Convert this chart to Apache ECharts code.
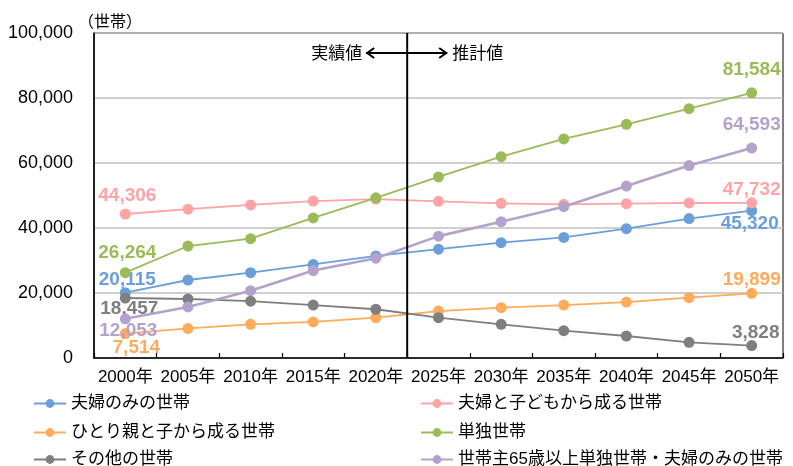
<!DOCTYPE html>
<html><head><meta charset="utf-8">
<script src="https://cdn.jsdelivr.net/npm/echarts@6/dist/echarts.min.js"></script>
<style>html,body{margin:0;padding:0;background:#fff}#c{width:793px;height:466px}</style>
</head><body><div id="c"></div>
<script>
const categories = ['2000年','2005年','2010年','2015年','2020年','2025年','2030年','2035年','2040年','2045年','2050年'];
const coupleOnly      = [20115, 24000, 26250, 28800, 31400, 33500, 35500, 37100, 39800, 42900, 45320];
const coupleChildren  = [44306, 45800, 47100, 48300, 48900, 48200, 47600, 47300, 47500, 47700, 47732];
const singleParent    = [7514, 9100, 10350, 11100, 12400, 14450, 15500, 16300, 17200, 18550, 19899];
const singlePerson    = [26264, 34450, 36700, 43100, 49300, 55700, 61950, 67400, 71900, 76700, 81584];
const otherHouseholds = [18457, 18150, 17500, 16300, 15000, 12400, 10350, 8400, 6770, 4820, 3828];
const elderly65       = [12053, 15700, 20700, 26900, 30700, 37500, 41950, 46550, 52900, 59200, 64593];
const seriesNames = ['夫婦のみの世帯','夫婦と子どもから成る世帯','ひとり親と子から成る世帯','単独世帯','その他の世帯','世帯主65歳以上単独世帯・夫婦のみの世帯'];
const yTicks = [0, 20000, 40000, 60000, 80000, 100000];

const FONT = "'Liberation Sans', Arial, 'Noto Sans CJK JP', sans-serif";
const seriesData = [coupleOnly, coupleChildren, singleParent, singlePerson, otherHouseholds, elderly65];
const colors = ['#6a9fdc', '#ffa3a6', '#ffab5c', '#9bbb59', '#7f7f7f', '#b3a2cc'];
const widths = [1.8, 1.8, 1.8, 1.8, 1.8, 2.6];
const offsets = [
  [[2,-13],[-2,13]],
  [[2,-18],[0,-13]],
  [[11,14],[0,-14]],
  [[2,-20],[0,-23]],
  [[4,11],[4,-13]],
  [[3,12],[0,-23]]
];
const fmt = v => String(v).replace(/\B(?=(\d{3})+(?!\d))/g, ',');

const series = seriesData.map((arr, i) => ({
  name: seriesNames[i],
  type: 'line',
  symbol: 'circle',
  symbolSize: 11,
  color: colors[i],
  lineStyle: {width: widths[i], color: colors[i]},
  itemStyle: {color: colors[i]},
  z: 2 + i,
  data: arr.map((v, j) => {
    if (j === 0 || j === arr.length - 1) {
      const off = j === 0 ? offsets[i][0] : offsets[i][1];
      return {value: v, label: {show: true, position: 'inside', offset: off, formatter: p => fmt(p.value),
        color: colors[i], fontWeight: 'bold', fontSize: 19, fontFamily: FONT}};
    }
    return v;
  })
}));

const legendPos = [[33, 395], [420, 395], [33, 424], [420, 424], [33, 451], [420, 451]];
const legends = seriesNames.map((n, i) => ({
  left: legendPos[i][0], top: legendPos[i][1], data: [n], padding: 0,
  itemWidth: 32, itemHeight: 11,
  textStyle: {fontSize: 17, color: '#000', fontFamily: FONT}
}));

const chart = echarts.init(document.getElementById('c'), null, {renderer: 'canvas'});
chart.setOption({
  animation: false,
  backgroundColor: '#fff',
  grid: {left: 94, right: 10, top: 33, bottom: 108, show: true, borderColor: '#000', borderWidth: 1},
  legend: legends,
  xAxis: {
    type: 'category', data: categories, boundaryGap: true,
    axisLine: {lineStyle: {color: '#000', width: 1.5}},
    axisTick: {show: true, inside: true, length: 5, lineStyle: {color: '#000', width: 1.2}},
    axisLabel: {color: '#000', fontSize: 17, fontFamily: FONT, margin: 11, interval: 0}
  },
  yAxis: {
    type: 'value', min: yTicks[0], max: yTicks[yTicks.length-1], interval: yTicks[1]-yTicks[0],
    axisLine: {show: true, lineStyle: {color: '#000', width: 1.5}},
    axisTick: {show: false},
    splitLine: {lineStyle: {color: '#bfbfbf', width: 1.5}},
    axisLabel: {color: '#000', fontSize: 18, fontFamily: FONT, margin: 21, formatter: v => fmt(v)}
  },
  series: series
});

const xA = chart.convertToPixel({xAxisIndex: 0}, 4);
const xB = chart.convertToPixel({xAxisIndex: 0}, 5);
const xDiv = (xA + xB) / 2;
const yTop = chart.convertToPixel({yAxisIndex: 0}, 100000);
const yBot = chart.convertToPixel({yAxisIndex: 0}, 0);
const ay = yTop + 20;
const x0 = xDiv - 41, x1 = xDiv + 40;
chart.setOption({
  graphic: [
    {type: 'line', z: 100, shape: {x1: xDiv, y1: yTop, x2: xDiv, y2: yBot}, style: {stroke: '#000', lineWidth: 2}},
    {type: 'line', z: 100, shape: {x1: x0, y1: ay, x2: x1, y2: ay}, style: {stroke: '#000', lineWidth: 2}},
    {type: 'polyline', z: 100, shape: {points: [[x0+8, ay-5], [x0+1, ay], [x0+8, ay+5]]}, style: {stroke: '#000', lineWidth: 2, fill: null}},
    {type: 'polyline', z: 100, shape: {points: [[x1-8, ay-5], [x1-1, ay], [x1-8, ay+5]]}, style: {stroke: '#000', lineWidth: 2, fill: null}},
    {type: 'text', z: 100, x: x0 - 4, y: ay, style: {text: '実績値', font: "17px 'Noto Sans CJK JP', sans-serif", fill: '#000', textAlign: 'right', textVerticalAlign: 'middle'}},
    {type: 'text', z: 100, x: x1 + 5, y: ay, style: {text: '推計値', font: "17px 'Noto Sans CJK JP', sans-serif", fill: '#000', textAlign: 'left', textVerticalAlign: 'middle'}},
    {type: 'text', z: 100, x: 78, y: 21, style: {text: '（世帯）', font: "16px 'Noto Sans CJK JP', sans-serif", fill: '#000', textAlign: 'left', textVerticalAlign: 'middle'}}
  ]
});
</script>
</body></html>
